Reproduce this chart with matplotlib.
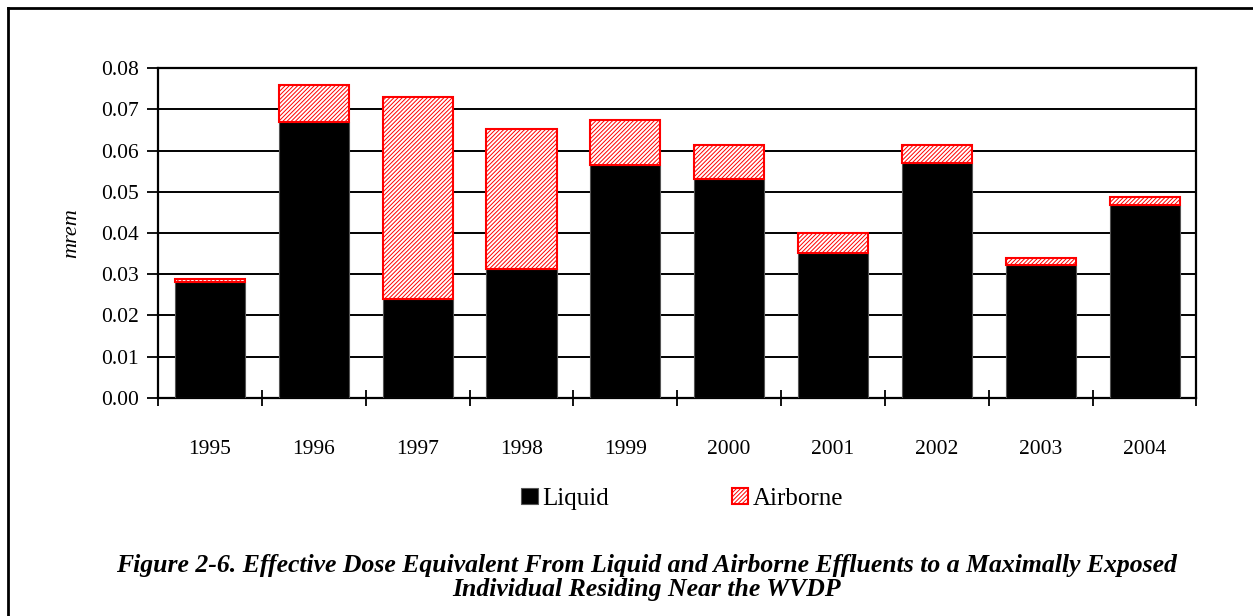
import numpy as np
import matplotlib
matplotlib.use('Agg')
import matplotlib.pyplot as plt
from matplotlib.lines import Line2D

plt.rcParams['font.family'] = ['Liberation Serif', 'DejaVu Serif']
plt.rcParams['hatch.linewidth'] = 0.7

years = ['1995', '1996', '1997', '1998', '1999', '2000', '2001', '2002', '2003', '2004']
liquid = [0.0282, 0.0668, 0.0241, 0.0312, 0.0565, 0.0530, 0.0352, 0.0570, 0.0322, 0.0469]
airborne = [0.0006, 0.0091, 0.0488, 0.0341, 0.0108, 0.0083, 0.0047, 0.0043, 0.0017, 0.0018]
yticks = [0.00, 0.01, 0.02, 0.03, 0.04, 0.05, 0.06, 0.07, 0.08]
caption = ('Figure 2-6. Effective Dose Equivalent From Liquid and Airborne Effluents to a Maximally Exposed\n'
           'Individual Residing Near the WVDP')

fig = plt.figure(figsize=(12.53, 6.16), dpi=100)
ax = fig.add_axes([0.1261, 0.3539, 0.8288, 0.5357])

x = np.arange(len(years))
w = 0.675
ax.bar(x, liquid, w, color='black', edgecolor='#555555', linewidth=0.8, label='Liquid', zorder=3)
ax.bar(x, airborne, w, bottom=liquid, color='white', edgecolor='red', hatch='////////',
       linewidth=1.5, label='Airborne', zorder=3)

ax.set_xlim(-0.5, len(years) - 0.5)
ax.set_ylim(0, 0.08)
ax.set_yticks(yticks)
ax.set_yticklabels(['%.2f' % v for v in yticks], fontsize=15.5)
ax.yaxis.grid(True, color='black', linewidth=1.4, zorder=0)
ax.set_axisbelow(True)

ax.set_xticks(x)
ax.set_xticklabels(years, fontsize=15.5)
ax.tick_params(axis='x', which='major', length=0, pad=30)
ax.set_xticks(np.arange(len(years) + 1) - 0.5, minor=True)
ax.tick_params(axis='x', which='minor', direction='inout', length=12, width=1.3)
ax.tick_params(axis='y', direction='out', length=8, width=1.3, pad=6)

for s in ax.spines.values():
    s.set_linewidth(1.6)
    s.set_color('black')

ax.set_ylabel('mrem', fontsize=16, style='italic', labelpad=14)

ax.legend(loc='center', bbox_to_anchor=(0.505, -0.305), ncol=2, frameon=False,
          fontsize=18, handlelength=0.65, handleheight=0.65, handletextpad=0.2,
          columnspacing=4.9)

fig.text(0.516, 0.063, caption, ha='center', va='center', fontsize=18.5,
         fontweight='bold', style='italic', linespacing=1.07)

# outer frame (left and top edges only)
fig.add_artist(Line2D([0.0064, 0.0064], [0, 0.987], transform=fig.transFigure,
                      color='black', linewidth=2))
fig.add_artist(Line2D([0.0064, 1.0], [0.987, 0.987], transform=fig.transFigure,
                      color='black', linewidth=2))

fig.savefig('out.png', dpi=100)
